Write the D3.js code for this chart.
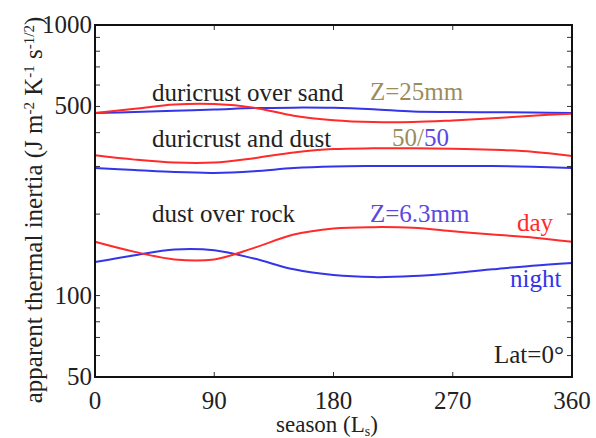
<!DOCTYPE html>
<html>
<head>
<meta charset="utf-8">
<script src="https://cdn.jsdelivr.net/npm/d3@7"></script>
<style>
  body { margin: 0; background: #fff; }
</style>
</head>
<body>
<div id="chart"></div>
<script>
// season (Ls) sample points
var seasons = [0, 30, 60, 90, 120, 150, 180, 210, 240, 270, 300, 330, 360];

// duricrust over sand
var sandDay   = [473, 490, 508, 510, 495, 462, 445, 438, 438, 444, 452, 462, 470];
var sandNight = [473, 477, 482, 487, 493, 495, 494, 488, 479, 477, 476, 475, 473];
// duricrust and dust 50/50
var mixDay    = [330, 318, 310, 310, 322, 338, 348, 350, 350, 349, 346, 340, 328];
var mixNight  = [296, 291, 286, 284, 288, 296, 300, 301, 301, 301, 301, 299, 296];
// dust over rock
var rockDay   = [158, 145, 136, 136, 150, 168, 177, 179, 178, 173, 168, 164, 158];
var rockNight = [133, 141, 148, 147, 137, 125, 119, 117, 118, 121, 125, 129, 132];

var xTicks = [0, 90, 180, 270, 360];
var yTickLabels = [50, 100, 500, 1000];

var width = 596, height = 438;
var margin = {top: 25, right: 24, bottom: 61, left: 95};
var serif = "'Liberation Serif', 'DejaVu Serif', 'Times New Roman', serif";

var svg = d3.select("#chart").append("svg")
    .attr("width", width)
    .attr("height", height)
    .attr("font-family", serif);

var x = d3.scaleLinear().domain([0, 360]).range([margin.left, width - margin.right]);
var y = d3.scaleLog().domain([50, 1000]).range([height - margin.bottom, margin.top]);

var red = "#ff2a2a", blue = "#3434e8";

var line = d3.line()
    .x(function(d) { return x(d[0]); })
    .y(function(d) { return y(d[1]); })
    .curve(d3.curveCatmullRom.alpha(0.5));

var series = [
    {vals: sandNight, color: blue},
    {vals: sandDay, color: red},
    {vals: mixNight, color: blue},
    {vals: mixDay, color: red},
    {vals: rockNight, color: blue},
    {vals: rockDay, color: red}
];

series.forEach(function(s) {
    svg.append("path")
        .datum(seasons.map(function(ls, i) { return [ls, s.vals[i]]; }))
        .attr("fill", "none")
        .attr("stroke", s.color)
        .attr("stroke-width", 2)
        .attr("d", line);
});

// minor log ticks (inward, both sides)
var minor = y.ticks(20).filter(function(v) { return v > 50 && v < 1000; });
var x0 = x(0), x1 = x(360), y0 = y(50), y1 = y(1000);
minor.forEach(function(v) {
    svg.append("line").attr("x1", x0).attr("x2", x0 + 5).attr("y1", y(v)).attr("y2", y(v))
        .attr("stroke", "#333").attr("stroke-width", 1);
    svg.append("line").attr("x1", x1).attr("x2", x1 - 5).attr("y1", y(v)).attr("y2", y(v))
        .attr("stroke", "#333").attr("stroke-width", 1);
});
xTicks.slice(1, -1).forEach(function(v) {
    svg.append("line").attr("x1", x(v)).attr("x2", x(v)).attr("y1", y0).attr("y2", y0 - 5)
        .attr("stroke", "#333").attr("stroke-width", 1);
    svg.append("line").attr("x1", x(v)).attr("x2", x(v)).attr("y1", y1).attr("y2", y1 + 5)
        .attr("stroke", "#333").attr("stroke-width", 1);
});

// frame
svg.append("rect")
    .attr("x", x0).attr("y", y1)
    .attr("width", x1 - x0).attr("height", y0 - y1)
    .attr("fill", "none").attr("stroke", "#111").attr("stroke-width", 2);

// tick labels
svg.selectAll(".xl").data(xTicks).enter().append("text")
    .attr("x", function(d) { return x(d); })
    .attr("y", 409)
    .attr("text-anchor", "middle")
    .attr("font-size", 25)
    .attr("fill", "#222")
    .text(function(d) { return d; });

svg.selectAll(".yl").data(yTickLabels).enter().append("text")
    .attr("x", x0 - 3)
    .attr("y", function(d) { return y(d) + 8; })
    .attr("text-anchor", "end")
    .attr("font-size", 25)
    .attr("fill", "#222")
    .text(function(d) { return d; });

// axis titles
var xt = svg.append("text")
    .attr("x", 327)
    .attr("y", 432)
    .attr("text-anchor", "middle")
    .attr("font-size", 23)
    .attr("fill", "#222");
xt.append("tspan").text("season (L");
xt.append("tspan").attr("font-size", 14).attr("dy", 4).text("s");
xt.append("tspan").attr("dy", -4).text(")");

var yt = svg.append("text")
    .attr("transform", "translate(42,210) rotate(-90)")
    .attr("text-anchor", "middle")
    .attr("font-size", 25)
    .attr("fill", "#222");
yt.append("tspan").text("apparent thermal inertia (J m");
yt.append("tspan").attr("font-size", 15).attr("dy", -8).text("-2");
yt.append("tspan").attr("dy", 8).text(" K");
yt.append("tspan").attr("font-size", 15).attr("dy", -8).text("-1");
yt.append("tspan").attr("dy", 8).text(" s");
yt.append("tspan").attr("font-size", 15).attr("dy", -8).text("-1/2");
yt.append("tspan").attr("dy", 8).text(")");

// annotations
function label(txt, px, py, color) {
    return svg.append("text").attr("x", px).attr("y", py)
        .attr("font-size", 25).attr("fill", color).text(txt);
}
label("duricrust over sand", 152, 101, "#222");
label("Z=25mm", 370, 100, "#9c8c5c");
label("duricrust and dust", 152, 147, "#222");
var ff = svg.append("text").attr("x", 392).attr("y", 146).attr("font-size", 25);
ff.append("tspan").attr("fill", "#9c8c5c").text("50/");
ff.append("tspan").attr("fill", "#5a48e0").text("50");
label("dust over rock", 152, 222, "#222");
label("Z=6.3mm", 370, 222, "#5a48e0");
label("day", 517, 231, red);
label("night", 510, 287, blue);
label("Lat=0\u00b0", 494, 363, "#222");
</script>
</body>
</html>
